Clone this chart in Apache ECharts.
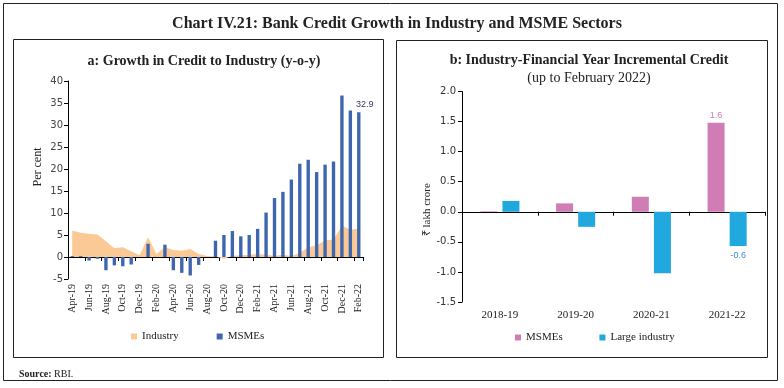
<!DOCTYPE html>
<html><head><meta charset="utf-8">
<script src="https://cdn.jsdelivr.net/npm/echarts@6/dist/echarts.min.js"></script>
<style>html,body{margin:0;padding:0;background:#fff}#c{width:784px;height:388px}</style>
</head><body><div id="c"></div>
<script>
// ---- Panel a data ----
const months = ['Apr-19','May-19','Jun-19','Jul-19','Aug-19','Sep-19','Oct-19','Nov-19','Dec-19','Jan-20','Feb-20','Mar-20',
  'Apr-20','May-20','Jun-20','Jul-20','Aug-20','Sep-20','Oct-20','Nov-20','Dec-20','Jan-21','Feb-21','Mar-21',
  'Apr-21','May-21','Jun-21','Jul-21','Aug-21','Sep-21','Oct-21','Nov-21','Dec-21','Jan-22','Feb-22'];
const industryGrowth = [6.0,5.5,5.3,5.1,3.6,2.0,2.2,1.3,0.4,4.5,0.7,2.3,1.6,1.4,1.8,0.7,0.2,0.1,-0.4,0.3,0.4,0.5,0.7,0.5,
  0.2,0.5,0.2,0.9,2.2,2.6,3.8,3.9,7.1,6.2,6.4];
const msmeGrowth = [0.2,0.2,-0.8,-0.4,-3.0,-1.9,-2.1,-1.7,0.0,3.0,0.0,2.8,-3.0,-3.6,-4.2,-1.8,0.0,3.7,5.0,5.9,4.7,5.0,6.4,10.1,
  13.4,14.8,17.6,21.2,22.1,19.3,21.0,21.7,36.7,33.3,32.9];
// ---- Panel b data ----
const years = ['2018-19','2019-20','2020-21','2021-22'];
const msmeIncr = [0.01,0.14,0.25,1.48];
const largeIncr = [0.18,-0.25,-1.02,-0.57];
const msmeIncrLabels = ['','','','1.6'];
const largeIncrLabels = ['','','','-0.6'];

const serif = 'Liberation Serif';
const sans = 'DejaVu Sans';
const chart = echarts.init(document.getElementById('c'), null, {renderer:'canvas'});

const option = {
  backgroundColor: '#fff',
  animation: false,
  graphic: [
    {type:'rect', shape:{x:3.5,y:3.5,width:774,height:377}, style:{fill:'none',stroke:'#222',lineWidth:1}, silent:true},
    {type:'rect', shape:{x:13.5,y:39.5,width:370,height:318}, style:{fill:'none',stroke:'#222',lineWidth:1}, silent:true},
    {type:'rect', shape:{x:396.5,y:40.5,width:371,height:317}, style:{fill:'none',stroke:'#222',lineWidth:1}, silent:true}
  ],
  title: [
    {text:'Chart IV.21: Bank Credit Growth in Industry and MSME Sectors', left:392, textAlign:'center', top:11,
     textStyle:{fontFamily:serif, fontSize:16, fontWeight:'bold', color:'#222'}},
    {text:'a: Growth in Credit to Industry (y-o-y)', left:199, textAlign:'center', top:49,
     textStyle:{fontFamily:serif, fontSize:14, fontWeight:'bold', color:'#222'}},
    {text:'b: Industry-Financial Year Incremental Credit', left:584, textAlign:'center', top:48,
     textStyle:{fontFamily:serif, fontSize:14, fontWeight:'bold', color:'#222'}},
    {text:'(up to February 2022)', left:584, textAlign:'center', top:66,
     textStyle:{fontFamily:serif, fontSize:14, fontWeight:'normal', color:'#222'}},
    {text:'{b|Source:} {n|RBI.}', left:14, top:364,
     textStyle:{fontFamily:serif, fontSize:10, fontWeight:'normal', color:'#222',
       rich:{b:{fontFamily:serif, fontSize:10, fontWeight:'bold', color:'#222'},
             n:{fontFamily:serif, fontSize:10, fontWeight:'normal', color:'#222'}}}}
  ],
  legend: [
    {data:['Industry','MSMEs'], left:126, top:326, icon:'rect', itemWidth:6, itemHeight:6, itemGap:38,
     textStyle:{fontFamily:serif, fontSize:11, color:'#222'}},
    {data:['MSMEs ','Large industry'], left:510, top:327, icon:'rect', itemWidth:6, itemHeight:6, itemGap:34,
     textStyle:{fontFamily:serif, fontSize:11, color:'#222'}}
  ],
  grid: [
    {left:68, right:421, top:81, bottom:109, containLabel:false},
    {left:462, right:19, top:91.5, bottom:86, containLabel:false}
  ],
  xAxis: [
    {type:'category', gridIndex:0, data:months, position:'bottom', boundaryGap:true,
     axisLine:{show:false, onZero:false}, axisTick:{show:false},
     axisLabel:{interval:1, rotate:90, margin:5, fontFamily:serif, fontSize:10, color:'#222'}},
    {type:'category', gridIndex:0, data:months, position:'bottom', boundaryGap:true,
     axisLine:{show:true, onZero:true, lineStyle:{color:'#000', width:1}},
     axisTick:{show:true, interval:1, length:4, lineStyle:{color:'#000'}}, axisLabel:{show:false}},
    {type:'category', gridIndex:1, data:years, position:'bottom',
     axisLine:{show:false, onZero:false}, axisTick:{show:false},
     axisLabel:{margin:8, fontFamily:serif, fontSize:11, color:'#222'}},
    {type:'category', gridIndex:1, data:years, position:'bottom',
     axisLine:{show:true, onZero:true, lineStyle:{color:'#000', width:1}},
     axisTick:{show:true, interval:0, length:4, lineStyle:{color:'#000'}}, axisLabel:{show:false}}
  ],
  yAxis: [
    {type:'value', gridIndex:0, min:-5, max:40, interval:5,
     name:'Per cent', nameLocation:'middle', nameGap:24,
     nameTextStyle:{fontFamily:serif, fontSize:12, color:'#222', padding:[0,0,0,26]},
     axisLine:{show:true, lineStyle:{color:'#000'}}, axisTick:{show:true, length:4, lineStyle:{color:'#000'}},
     splitLine:{show:false}, axisLabel:{margin:5, fontFamily:sans, fontSize:10, color:'#444'}},
    {type:'value', gridIndex:1, min:-1.5, max:2.0, interval:0.5,
     name:'₹ lakh crore', nameLocation:'middle', nameGap:26,
     nameTextStyle:{fontFamily:serif, fontSize:11, color:'#222', padding:[0,26,0,0]},
     axisLine:{show:true, lineStyle:{color:'#000'}}, axisTick:{show:true, length:4, lineStyle:{color:'#000'}},
     splitLine:{show:false},
     axisLabel:{margin:6, fontFamily:sans, fontSize:10, color:'#333', formatter:v=>v.toFixed(1)}}
  ],
  series: [
    {name:'Industry', type:'line', xAxisIndex:0, yAxisIndex:0, data:industryGrowth, symbol:'none',
     lineStyle:{width:0}, itemStyle:{color:'#FBC995'}, areaStyle:{color:'#FBC995', opacity:1}, z:1},
    {name:'MSMEs', type:'bar', xAxisIndex:0, yAxisIndex:0, data:msmeGrowth, barWidth:'40%',
     itemStyle:{color:'#3E66AE'}, z:3,
     label:{show:true, position:'top', distance:3, offset:[6,0], fontFamily:'Liberation Sans', fontSize:9, color:'#35356a',
       formatter:p=>p.dataIndex===msmeGrowth.length-1 ? p.value.toFixed(1) : ''}},
    {name:'MSMEs ', type:'bar', xAxisIndex:2, yAxisIndex:1, data:msmeIncr, barWidth:17, barGap:'30%',
     itemStyle:{color:'#D07DB6'},
     label:{show:true, position:'top', distance:3, fontFamily:'Liberation Sans', fontSize:9, color:'#C77DB4',
       formatter:p=>msmeIncrLabels[p.dataIndex]}},
    {name:'Large industry', type:'bar', xAxisIndex:2, yAxisIndex:1, data:largeIncr, barWidth:17, barGap:'30%',
     itemStyle:{color:'#21A8DF'},
     label:{show:true, position:'bottom', distance:5, fontFamily:'Liberation Sans', fontSize:9, color:'#3B8FD0',
       formatter:p=>largeIncrLabels[p.dataIndex]}}
  ]
};
chart.setOption(option);
</script></body></html>
